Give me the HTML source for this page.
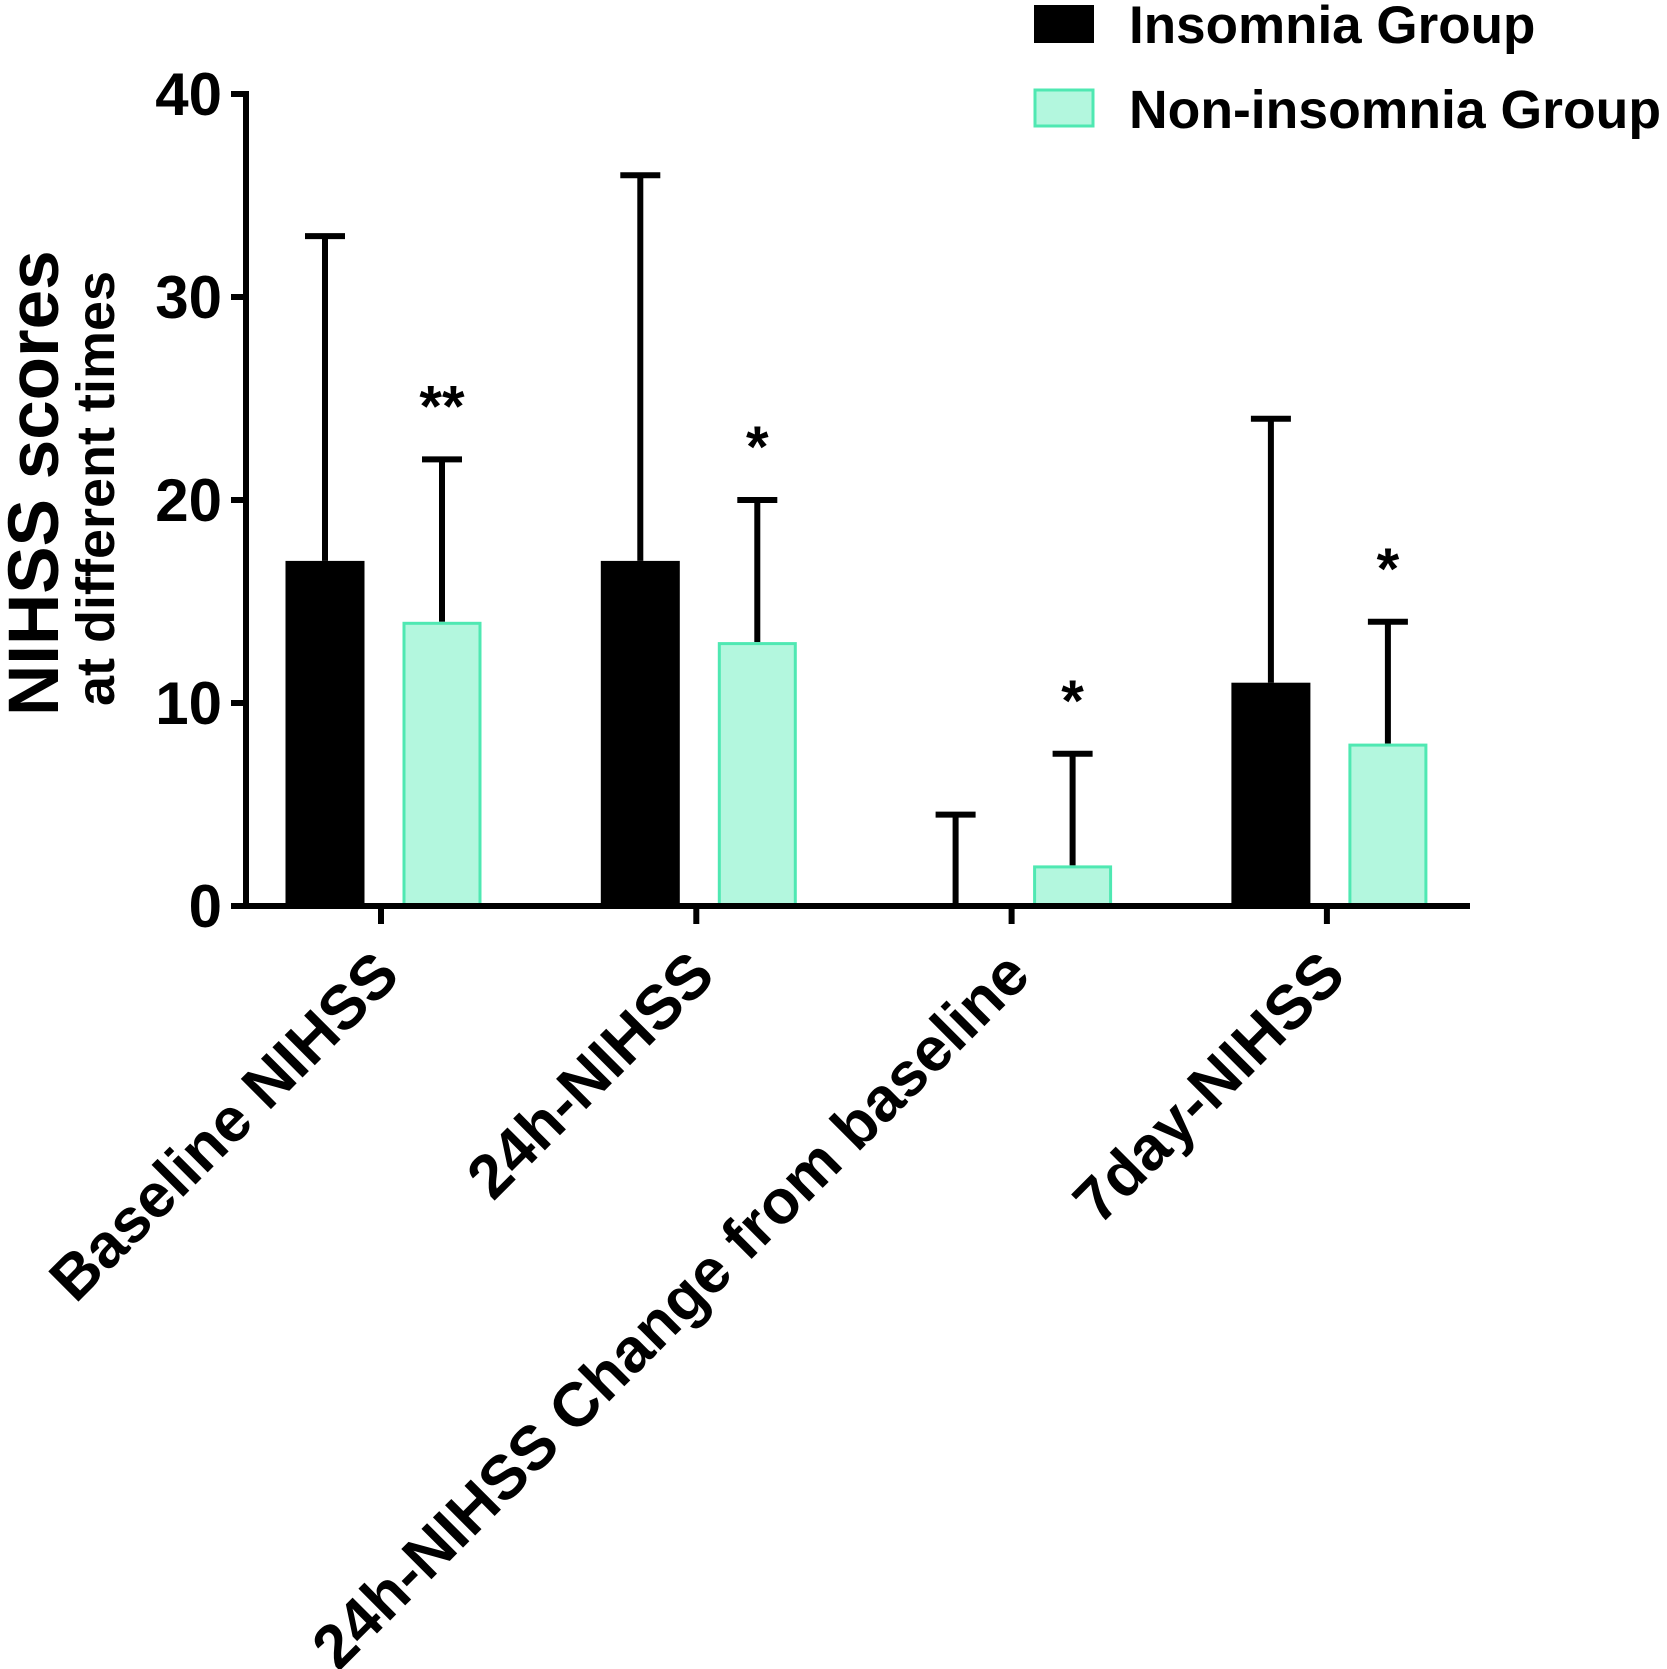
<!DOCTYPE html>
<html><head><meta charset="utf-8"><style>
html,body{margin:0;padding:0;background:#fff;}
svg{display:block;font-family:"Liberation Sans",Arial,sans-serif;font-weight:bold;}
</style></head><body>
<svg id="chart" width="1667" height="1669" viewBox="0 0 1667 1669" xmlns="http://www.w3.org/2000/svg">
<g>
  <rect x="1034" y="5" width="60" height="38" fill="#000"/>
  <text x="1129" y="43" font-size="53">Insomnia Group</text>
  <rect x="1035" y="90" width="58" height="36" fill="#b3f7de" stroke="#4fe8b2" stroke-width="3"/>
  <text x="1129" y="128" font-size="53.5">Non-insomnia Group</text>
</g>
<text transform="translate(58,716) rotate(-90)" font-size="71">NIHSS scores</text>
<text transform="translate(114,706) rotate(-90)" font-size="54">at different times</text>
<g id="plot"></g>
</svg>
<script>
const categories = ["Baseline NIHSS", "24h-NIHSS", "24h-NIHSS Change from baseline", "7day-NIHSS"];
const insomniaMean = [17, 17, 0, 11];
const insomniaUpper = [33, 36, 4.5, 24];
const nonInsomniaMean = [14, 13, 2, 8];
const nonInsomniaUpper = [22, 20, 7.5, 14];
const significance = ["**", "*", "*", "*"];
const yTicks = [0, 10, 20, 30, 40];

const NS = "http://www.w3.org/2000/svg";
const plot = document.getElementById("plot");
const X0 = 246, X1 = 1470, Y0 = 906, PX = 20.3;
function y(v){ return Y0 - v * PX; }
function xc(i){ return 381 + i * 315.3; }
function mk(tag, attrs, parent){
  const e = document.createElementNS(NS, tag);
  for (const k in attrs) e.setAttribute(k, attrs[k]);
  (parent || plot).appendChild(e);
  return e;
}
categories.forEach((c, i) => {
  const bx = xc(i) - 56, gx = xc(i) + 61, w = 79;
  const e1 = mk("path", {d: `M${bx} ${y(insomniaMean[i])}V${y(insomniaUpper[i])}M${bx-20} ${y(insomniaUpper[i])}H${bx+20}`, stroke: "#000", "stroke-width": 6, fill: "none"});
  
  
  if (insomniaMean[i] > 0) {
    const b1 = mk("rect", {x: bx - w/2, y: y(insomniaMean[i]), width: w, height: Y0 - y(insomniaMean[i]), fill: "#000"});
    
    
  }
  const e2 = mk("path", {d: `M${gx} ${y(nonInsomniaMean[i])}V${y(nonInsomniaUpper[i])}M${gx-20} ${y(nonInsomniaUpper[i])}H${gx+20}`, stroke: "#000", "stroke-width": 6, fill: "none"});
  
  
  const b2 = mk("rect", {x: gx - w/2 + 1.5, y: y(nonInsomniaMean[i]) + 1.5, width: w - 3, height: Y0 - y(nonInsomniaMean[i]) - 1.5, fill: "#b3f7de", stroke: "#4fe8b2", "stroke-width": 3});
  
  
  const s = mk("text", {x: gx, y: y(nonInsomniaUpper[i]) - 33, "font-size": 58, "text-anchor": "middle"});
  s.textContent = significance[i];
  
  
  const t = mk("path", {d: `M${xc(i)} ${Y0}V${Y0+18}`, stroke: "#000", "stroke-width": 6});
  
  
  const lx = xc(i) + 21, ly = 978;
  const l = mk("text", {transform: `translate(${lx},${ly}) rotate(-45)`, "font-size": 62, "text-anchor": "end"});
  l.textContent = c;
  
  
});
const ya = mk("path", {d: `M${X0} ${y(40)-3}V${Y0+3}`, stroke: "#000", "stroke-width": 6});


const xa = mk("path", {d: `M${X0-3} ${Y0}H${X1}`, stroke: "#000", "stroke-width": 6});


yTicks.forEach(v => {
  const t = mk("path", {d: `M${X0-15} ${y(v)}H${X0}`, stroke: "#000", "stroke-width": 6});
  
  
  const l = mk("text", {x: 222, y: y(v) + 21, "font-size": 60, "text-anchor": "end"});
  l.textContent = v;
  
  
});
</script>
</body></html>
